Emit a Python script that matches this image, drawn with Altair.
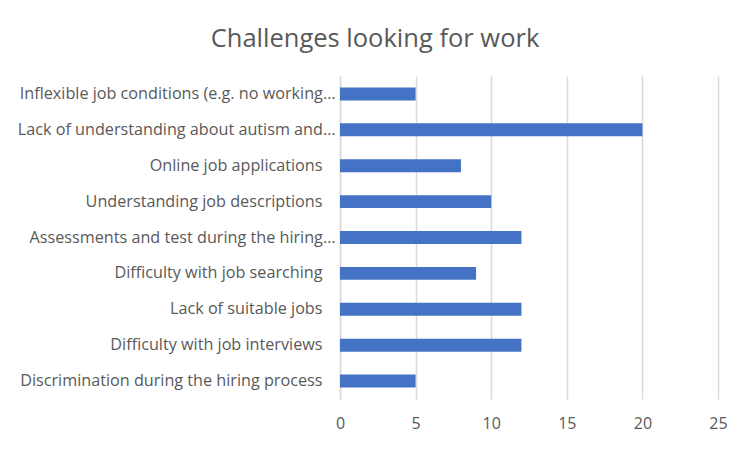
import altair as alt
import pandas as pd

categories = [
    "Inflexible job conditions (e.g. no working…",
    "Lack of understanding about autism and…",
    "Online job applications",
    "Understanding job descriptions",
    "Assessments and test during the hiring…",
    "Difficulty with job searching",
    "Lack of suitable jobs",
    "Difficulty with job interviews",
    "Discrimination during the hiring process",
]
counts = [5, 20, 8, 10, 12, 9, 12, 12, 5]

df = pd.DataFrame({"challenge": categories, "count": counts})

font = "Open Sans"
grey = "#595959"

# labels that were not cut short sit a little further from the axis
pad = {"condition": {"test": "indexof(datum.label, '…') < 0", "value": 18}, "value": 5}

chart = alt.Chart(df).mark_bar(color="#4472C4").encode(
    x=alt.X("count:Q", scale=alt.Scale(domain=[0, 25], nice=False),
            axis=alt.Axis(title=None, values=[0, 5, 10, 15, 20, 25], domain=False, ticks=False,
                          gridColor="#d9d9d9", gridWidth=1.5, labelFont=font, labelFlush=False,
                          labelFontSize=16, labelColor=grey, labelPadding=16)),
    y=alt.Y("challenge:N", sort=categories,
            scale=alt.Scale(paddingInner=0.64, paddingOuter=0.32),
            axis=alt.Axis(title=None, domain=True, domainColor="#d9d9d9", domainWidth=1.5,
                          ticks=False, labelFont=font, labelFontSize=16.2, labelColor=grey,
                          labelPadding=pad, labelLimit=400)),
).properties(
    width=378,
    height=323,
    title=alt.TitleParams("Challenges looking for work", font=font, fontSize=25.5,
                          fontWeight="normal", color=grey, anchor="middle", dx=-154, offset=24),
    autosize=alt.AutoSizeParams(type="none"),
    padding={"left": 332, "top": 68, "right": 24, "bottom": 40},
).configure_view(stroke=None)

chart.save("out.html", embed_options={"renderer": "svg", "actions": False})
